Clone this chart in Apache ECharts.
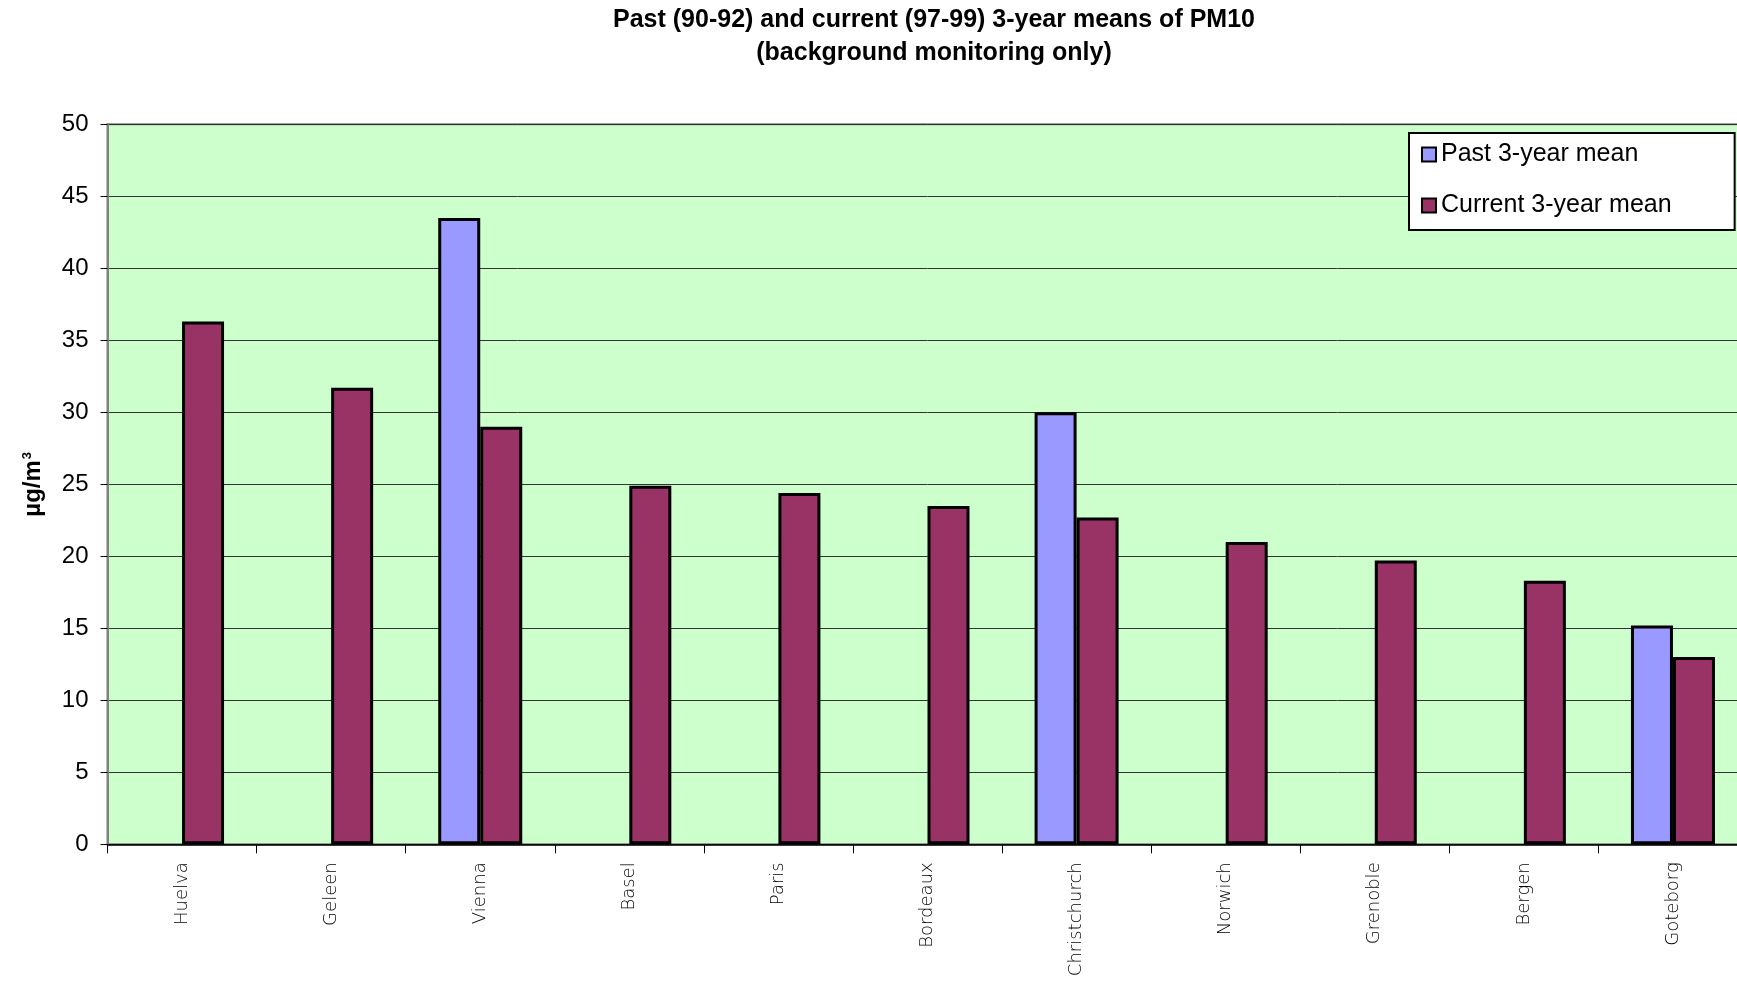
<!DOCTYPE html>
<html>
<head>
<meta charset="utf-8">
<title>PM10 3-year means</title>
<script src="https://cdn.jsdelivr.net/npm/echarts@6/dist/echarts.min.js"></script>
<style>
  html, body { margin: 0; padding: 0; background: #ffffff; overflow: hidden; }
  /* the plot area runs slightly past the right edge of the window */
  #chart { width: 1760px; height: 981px; }
</style>
</head>
<body>
<div id="chart"></div>
<script>
// Monitoring sites (background stations)
const cities = ['Huelva', 'Geleen', 'Vienna', 'Basel', 'Paris', 'Bordeaux',
                'Christchurch', 'Norwich', 'Grenoble', 'Bergen', 'Goteborg'];

// PM10 3-year means, µg/m³ (null where no 1990-92 record exists)
const pastMean    = [null, null, 43.5, null, null, null, 30.0, null, null, null, 15.2];
const currentMean = [36.3, 31.7, 29.0, 24.9, 24.4, 23.5, 22.7, 21.0, 19.7, 18.3, 13.0];

const seriesNames = ['Past 3-year mean', 'Current 3-year mean'];
const yTicks = { min: 0, max: 50, interval: 5 };

const chart = echarts.init(document.getElementById('chart'), null, { renderer: 'canvas' });

const barBorder = { borderColor: '#000000', borderWidth: 3 };
const sans = '"Liberation Sans", Arial, sans-serif';

chart.setOption({
  animation: false,
  backgroundColor: '#ffffff',
  title: {
    text: 'Past (90-92) and current (97-99) 3-year means of PM10\n(background monitoring only)',
    left: 934,
    top: 4,
    textAlign: 'center',
    padding: 0,
    textStyle: {
      fontFamily: sans,
      fontWeight: 'bold',
      fontSize: 25,
      lineHeight: 33,
      color: '#000000'
    }
  },
  legend: {
    orient: 'vertical',
    left: 1409,
    top: 133,
    data: seriesNames,
    backgroundColor: '#ffffff',
    borderColor: '#000000',
    borderWidth: 2,
    padding: [9, 63, 12, 12],
    itemGap: 26,
    itemWidth: 14,
    itemHeight: 14,
    icon: 'rect',
    itemStyle: { borderColor: '#000000', borderWidth: 2 },
    textStyle: {
      fontFamily: sans,
      fontSize: 25,
      color: '#000000'
    }
  },
  grid: {
    show: true,
    left: 107.5,
    right: 12.5,
    top: 124.3,
    bottom: 136.7,
    backgroundColor: '#CCFFCC',
    borderColor: '#808080',
    borderWidth: 2
  },
  xAxis: {
    type: 'category',
    data: cities,
    boundaryGap: true,
    axisLine: { show: true, lineStyle: { color: '#000000', width: 1.5 } },
    axisTick: { show: true, alignWithLabel: false, length: 9, lineStyle: { color: '#000000', width: 1 } },
    axisLabel: {
      rotate: 90,
      interval: 0,
      margin: 18,
      fontFamily: '"DejaVu Sans", sans-serif',
      fontWeight: 200,
      fontSize: 18,
      color: '#000000'
    },
    splitLine: { show: false }
  },
  yAxis: {
    type: 'value',
    min: yTicks.min,
    max: yTicks.max,
    interval: yTicks.interval,
    name: '{u|µg/m}{s|3}',
    nameLocation: 'middle',
    nameRotate: 90,
    nameGap: 62,
    nameTextStyle: {
      rich: {
        u: { fontFamily: sans, fontWeight: 'bold', fontSize: 24, color: '#000000' },
        s: { fontFamily: sans, fontWeight: 'bold', fontSize: 13, color: '#000000',
             verticalAlign: 'top', padding: [0, 0, 12, 1] }
      }
    },
    axisLine: { show: true, lineStyle: { color: '#808080', width: 2 } },
    axisTick: { show: true, length: 7, lineStyle: { color: '#000000', width: 1 } },
    axisLabel: {
      margin: 19,
      fontFamily: sans,
      fontSize: 24,
      color: '#000000'
    },
    splitLine: { show: true, lineStyle: { color: '#333333', width: 1 } }
  },
  series: [
    {
      name: seriesNames[0],
      type: 'bar',
      data: pastMean,
      barWidth: 42,
      barGap: '0%',
      itemStyle: Object.assign({ color: '#9999FF' }, barBorder)
    },
    {
      name: seriesNames[1],
      type: 'bar',
      data: currentMean,
      barWidth: 42,
      barGap: '0%',
      itemStyle: Object.assign({ color: '#993366' }, barBorder)
    }
  ]
});
</script>
</body>
</html>
